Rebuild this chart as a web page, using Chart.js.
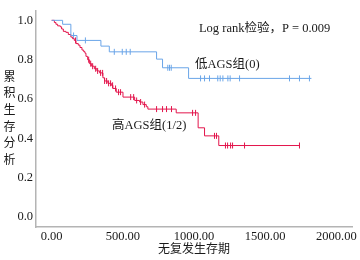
<!DOCTYPE html>
<html>
<head>
  <title>KM curve</title>
  <script src="https://cdn.jsdelivr.net/npm/chart.js"></script>
  <style>
    html, body { margin: 0; padding: 0; background: #fff; }
    #box { width: 360px; height: 260px; }
  </style>
</head>
<body>
  <div id="box"><canvas id="myChart"></canvas></div>
  <script>
    // low AGS group (0): step times / survival, censored times
    const lowStepTimes = [0, 77, 135, 178, 346, 405, 737, 779, 962, 1825];
    const lowStepSurv = [1.0, 0.980, 0.923, 0.898, 0.869, 0.840, 0.803, 0.759, 0.705, 0.705];
    const lowCensorTimes = [154, 237, 440, 496, 524, 552, 816, 828, 840, 1046, 1074, 1109, 1167, 1184, 1203, 1238, 1254, 1320, 1671, 1741, 1811];

    // high AGS group (1/2)
    const highStepTimes = [0, 19, 30, 42, 61, 70, 82, 100, 117, 135, 147, 159, 171, 187, 199, 213, 225, 234, 241, 253, 265, 281, 300, 318, 337, 360, 372, 395, 419, 430, 454, 501, 583, 618, 641, 665, 676, 875, 1029, 1074, 1174, 1741];
    const highStepSurv = [1.0, 0.989, 0.980, 0.972, 0.967, 0.956, 0.944, 0.939, 0.928, 0.915, 0.907, 0.898, 0.882, 0.874, 0.862, 0.849, 0.841, 0.833, 0.817, 0.800, 0.780, 0.767, 0.754, 0.743, 0.733, 0.708, 0.692, 0.680, 0.670, 0.654, 0.635, 0.610, 0.593, 0.585, 0.572, 0.561, 0.549, 0.530, 0.454, 0.413, 0.364, 0.364];
    const highCensorTimes = [168, 260, 274, 288, 309, 323, 344, 358, 372, 386, 400, 414, 428, 449, 470, 484, 555, 576, 597, 625, 653, 737, 779, 807, 842, 990, 1011, 1144, 1158, 1221, 1236, 1257, 1271, 1355, 1741];

    const xTicks = [0, 500, 1000, 1500, 2000];
    const yTicks = [0, 0.2, 0.4, 0.6, 0.8, 1.0];

    const yTitle = ['累', '积', '生', '存', '分', '析'];
    const xTitle = '无复发生存期';
    const notes = [
      { text: 'Log rank检验，P = 0.009', x: 1035, y: 0.957 },
      { text: '低AGS组(0)', x: 1007, y: 0.774 },
      { text: '高AGS组(1/2)', x: 424, y: 0.463 }
    ];

    const blue = '#6aa5e8';
    const red = '#e3154c';
    const serif = '"Liberation Serif", "Noto Sans CJK SC", serif';

    function survAt(times, surv, t) {
      let s = surv[0];
      for (let i = 0; i < times.length; i++) {
        if (times[i] <= t) s = surv[i];
      }
      return s;
    }

    function stepSet(times, surv, color) {
      return {
        data: times.map((t, i) => ({ x: t, y: surv[i] })),
        borderColor: color,
        borderWidth: 1,
        stepped: true,
        pointRadius: 0,
        fill: false
      };
    }

    function censorSet(ctimes, times, surv, color) {
      return {
        data: ctimes.map(t => ({ x: t, y: survAt(times, surv, t) })),
        showLine: false,
        borderColor: color,
        backgroundColor: color,
        borderWidth: 1,
        pointStyle: 'line',
        rotation: 90,
        pointRadius: 3,
        pointHoverRadius: 3
      };
    }

    const textPlugin = {
      id: 'texts',
      afterDraw(chart) {
        const c = chart.ctx;
        const xs = chart.scales.x, ys = chart.scales.y;
        c.save();
        c.fillStyle = '#1a1a1a';
        c.font = '12.5px ' + serif;
        c.textBaseline = 'middle';
        c.textAlign = 'left';
        notes.forEach(n => {
          c.fillText(n.text, xs.getPixelForValue(n.x), ys.getPixelForValue(n.y));
        });
        c.textAlign = 'center';
        c.font = '12px "Noto Sans CJK SC", sans-serif';
        const mid = (ys.top + ys.bottom) / 2 - 1;
        yTitle.forEach((ch, i) => {
          c.fillText(ch, 9.5, mid + (i - (yTitle.length - 1) / 2) * 16.6);
        });
        c.restore();
      }
    };

    new Chart(document.getElementById('myChart'), {
      type: 'line',
      data: {
        datasets: [
          stepSet(lowStepTimes, lowStepSurv, blue),
          stepSet(highStepTimes, highStepSurv, red),
          censorSet(lowCensorTimes, lowStepTimes, lowStepSurv, blue),
          censorSet(highCensorTimes, highStepTimes, highStepSurv, red)
        ]
      },
      options: {
        responsive: true,
        maintainAspectRatio: false,
        animation: false,
        layout: { padding: { left: 0, right: 8, top: 4, bottom: 0 } },
        plugins: {
          legend: { display: false },
          tooltip: { enabled: false }
        },
        scales: {
          x: {
            type: 'linear',
            min: -110,
            max: 2110,
            afterBuildTicks: s => { s.ticks = xTicks.map(v => ({ value: v })); },
            afterFit: s => { s.height = 33; },
            grid: { display: false, drawTicks: false, tickLength: 0 },
            border: { color: '#b4b4b4', width: 1.5 },
            ticks: {
              padding: 2,
              color: '#1a1a1a',
              font: { family: serif, size: 12.5 },
              callback: v => v.toFixed(2)
            },
            title: {
              display: true,
              text: xTitle,
              color: '#1a1a1a',
              font: { family: '"Noto Sans CJK SC", sans-serif', size: 12 },
              padding: { top: 0, bottom: 4 }
            }
          },
          y: {
            type: 'linear',
            min: -0.05,
            max: 1.05,
            afterBuildTicks: s => { s.ticks = yTicks.map(v => ({ value: v })); },
            afterFit: s => { s.width = 36; },
            grid: { display: false, drawTicks: false, tickLength: 0 },
            border: { color: '#b4b4b4', width: 1.5 },
            ticks: {
              padding: 3,
              color: '#1a1a1a',
              font: { family: serif, size: 12.5 },
              callback: v => v.toFixed(1)
            }
          }
        }
      },
      plugins: [textPlugin]
    });
  </script>
</body>
</html>
